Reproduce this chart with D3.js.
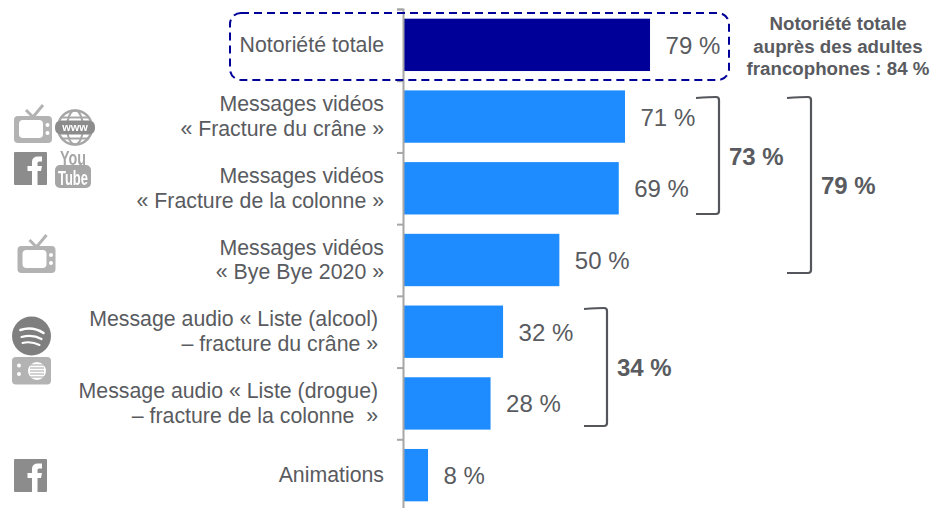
<!DOCTYPE html>
<html>
<head>
<meta charset="utf-8">
<script src="https://cdn.jsdelivr.net/npm/d3@7"></script>
<style>
html, body { margin: 0; padding: 0; background: #fff; overflow: hidden; }
svg { display: block; }
text { font-family: "Liberation Sans", Arial, sans-serif; white-space: pre; }
</style>
</head>
<body>
<svg id="chart"></svg>
<script>
var width = 933;
var height = 508;

var labels = [
  ["Notoriété totale"],
  ["Messages vidéos", "« Fracture du crâne »"],
  ["Messages vidéos", "« Fracture de la colonne »"],
  ["Messages vidéos", "« Bye Bye 2020 »"],
  ["Message audio « Liste (alcool)\u00a0", "– fracture du crâne »\u00a0"],
  ["Message audio « Liste (drogue)\u00a0", "– fracture de la colonne  »\u00a0"],
  ["Animations"]
];
var values = [79, 71, 69, 50, 32, 28, 8];
var noteLines = ["Notoriété totale", "auprès des adultes", "francophones : 84 %"];
var groupLabels = ["73 %", "79 %", "34 %"];

var textColor = "#595B60";
var darkBlue = "#000099";
var blue = "#1E8CFF";
var axisGrey = "#A6A6A6";
var bracketColor = "#54565C";

var svg = d3.select("#chart").attr("width", width).attr("height", height);

// the icons in the reference are soft, slightly scaled bitmaps
svg.append("defs").append("filter").attr("id", "soft")
  .append("feGaussianBlur").attr("stdDeviation", 0.4);

var x = d3.scaleLinear().domain([0, 100]).range([403, 715.7]);
var y = d3.scaleBand().domain(d3.range(values.length)).range([9, 511]).paddingInner(0.27).paddingOuter(0.135);
var tickScale = d3.scaleLinear().domain([0, values.length]).range([9, 511]);

// bars
svg.append("g").selectAll("rect")
  .data(values)
  .enter().append("rect")
  .attr("x", x(0))
  .attr("y", function(d, i) { return y(i); })
  .attr("width", function(d) { return x(d) - x(0); })
  .attr("height", y.bandwidth())
  .attr("fill", function(d, i) { return i == 0 ? darkBlue : blue; });

// axis, ticks sit between the categories
var axis = svg.append("g")
  .attr("transform", "translate(" + x(0) + ",0)")
  .call(d3.axisLeft(tickScale).tickValues(d3.range(values.length + 1)).tickSize(6).tickFormat(""));
axis.selectAll("path, line").attr("stroke", axisGrey).attr("stroke-width", 2);

// value labels
svg.append("g").selectAll("text")
  .data(values)
  .enter().append("text")
  .attr("x", function(d) { return x(d) + 15.5; })
  .attr("y", function(d, i) { return y(i) + y.bandwidth() / 2 + 9; })
  .attr("font-size", 24)
  .attr("fill", textColor)
  .text(function(d) { return d + " %"; });

// category labels
var labelG = svg.append("g").selectAll("text")
  .data(labels)
  .enter().append("text")
  .attr("text-anchor", "end")
  .attr("font-size", 21.3)
  .attr("fill", textColor);
labelG.selectAll("tspan")
  .data(function(d, i) { return d.map(function(l, j) { return { t: l, i: i, j: j, n: d.length }; }); })
  .enter().append("tspan")
  .attr("x", 384)
  .attr("y", function(d) { return y(d.i) + y.bandwidth() / 2 + 7 + (d.j - (d.n - 1) / 2) * 24.5; })
  .text(function(d) { return d.t; });

// dashed box round the first row
svg.append("rect")
  .attr("x", 230).attr("y", 13).attr("width", 499).attr("height", 67).attr("rx", 11)
  .attr("fill", "none").attr("stroke", darkBlue).attr("stroke-width", 2)
  .attr("stroke-dasharray", "8 5");

// note on the right
svg.append("g").selectAll("text")
  .data(noteLines)
  .enter().append("text")
  .attr("x", 838)
  .attr("y", function(d, i) { return 30 + i * 22.5; })
  .attr("text-anchor", "middle")
  .attr("font-size", 18.7)
  .attr("font-weight", "bold")
  .attr("fill", textColor)
  .text(function(d) { return d; });

// brackets
function bracket(x0, x1, y0, y1) {
  svg.append("path")
    .attr("d", "M" + x0 + "," + y0 + " Q" + (x0 + 14) + "," + (y0 - 1) + " " + (x1 - 3) + "," + (y0 - 1) +
      " Q" + x1 + "," + (y0 - 1) + " " + x1 + "," + (y0 + 2) +
      " L" + x1 + "," + (y1 - 2) +
      " Q" + x1 + "," + (y1 + 1) + " " + (x1 - 3) + "," + (y1 + 1) +
      " Q" + (x0 + 14) + "," + (y1 + 1) + " " + x0 + "," + (y1 + 1))
    .attr("fill", "none").attr("stroke", bracketColor).attr("stroke-width", 2.2);
}
bracket(696, 719, 98, 213);
bracket(787, 811, 98, 272);
bracket(584, 607, 309, 425);

var groupPos = [[729, 165], [821, 194], [617, 376]];
svg.append("g").selectAll("text")
  .data(groupLabels)
  .enter().append("text")
  .attr("x", function(d, i) { return groupPos[i][0]; })
  .attr("y", function(d, i) { return groupPos[i][1]; })
  .attr("font-size", 24)
  .attr("font-weight", "bold")
  .attr("fill", textColor)
  .text(function(d) { return d; });

// icons
var icons = svg.append("g").attr("filter", "url(#soft)");

function tv(px, py) {
  var g = icons.append("g").attr("transform", "translate(" + px + "," + py + ")");
  g.append("path").attr("d", "M12,6 L19,13 L29,1").attr("fill", "none").attr("stroke", "#b3b3b3").attr("stroke-width", 3);
  g.append("rect").attr("x", 0).attr("y", 12).attr("width", 38).attr("height", 27).attr("rx", 4).attr("fill", "#b3b3b3");
  g.append("rect").attr("x", 5).attr("y", 16).attr("width", 24).attr("height", 18).attr("rx", 4).attr("fill", "#fff");
  g.append("circle").attr("cx", 33.5).attr("cy", 21).attr("r", 2).attr("fill", "#fff");
  g.append("circle").attr("cx", 33.5).attr("cy", 29).attr("r", 2).attr("fill", "#fff");
}
function fb(px, py) {
  var g = icons.append("g").attr("transform", "translate(" + px + "," + py + ")");
  g.append("rect").attr("width", 33).attr("height", 33).attr("rx", 1).attr("fill", "#8c8c8c");
  g.append("path").attr("d", "M18,33 V19 H13.5 V14 H18 V10 Q18,4.5 24,4.5 H28 V9.5 H25 Q23.5,9.5 23.5,11 V14 H28 L27,19 H23.5 V33 Z").attr("fill", "#fff");
}
tv(14, 104);
tv(17.5, 234);
fb(14, 152);
fb(14, 459);

// www globe
var globe = icons.append("g").attr("transform", "translate(75,127.5)");
globe.append("circle").attr("r", 17).attr("fill", "none").attr("stroke", "#a6a6a6").attr("stroke-width", 2.5);
globe.append("ellipse").attr("rx", 8).attr("ry", 17).attr("fill", "none").attr("stroke", "#a6a6a6").attr("stroke-width", 2);
globe.append("line").attr("x1", -14).attr("x2", 14).attr("y1", -10).attr("y2", -10).attr("stroke", "#a6a6a6").attr("stroke-width", 2);
globe.append("line").attr("x1", -14).attr("x2", 14).attr("y1", 11).attr("y2", 11).attr("stroke", "#a6a6a6").attr("stroke-width", 2);
globe.append("rect").attr("x", -20).attr("y", -7).attr("width", 40).attr("height", 14).attr("rx", 6).attr("fill", "#8c8c8c");
globe.append("text").attr("y", 3.5).attr("text-anchor", "middle").attr("font-size", 11).attr("font-weight", "bold").attr("fill", "#fff").text("www");

// youtube
icons.append("text").attr("x", 73).attr("y", 165).attr("text-anchor", "middle").attr("font-size", 21).attr("font-weight", "bold")
  .attr("fill", "#a6a6a6").attr("textLength", 26).attr("lengthAdjust", "spacingAndGlyphs").text("You");
icons.append("rect").attr("x", 55).attr("y", 165).attr("width", 36).attr("height", 23).attr("rx", 5).attr("fill", "#a6a6a6");
icons.append("text").attr("x", 73).attr("y", 185).attr("text-anchor", "middle").attr("font-size", 20).attr("font-weight", "bold")
  .attr("fill", "#fff").attr("textLength", 30).attr("lengthAdjust", "spacingAndGlyphs").text("Tube");

// spotify
var sp = icons.append("g").attr("transform", "translate(31.5,336)");
sp.append("circle").attr("r", 19.5).attr("fill", "#7f7f7f");
sp.append("path").attr("d", "M-11,-6 Q1,-10 12,-3").attr("fill", "none").attr("stroke", "#fff").attr("stroke-width", 2.6).attr("stroke-linecap", "round");
sp.append("path").attr("d", "M-10,1 Q1,-2 10,3").attr("fill", "none").attr("stroke", "#fff").attr("stroke-width", 2.2).attr("stroke-linecap", "round");
sp.append("path").attr("d", "M-9,7 Q0,5 8,9").attr("fill", "none").attr("stroke", "#fff").attr("stroke-width", 2).attr("stroke-linecap", "round");

// radio
var radio = icons.append("g").attr("transform", "translate(12,357)");
radio.append("rect").attr("width", 39).attr("height", 27.5).attr("rx", 4).attr("fill", "#b3b3b3");
radio.append("circle").attr("cx", 7).attr("cy", 8.5).attr("r", 2).attr("fill", "#fff");
radio.append("circle").attr("cx", 7).attr("cy", 17).attr("r", 2).attr("fill", "#fff");
radio.append("circle").attr("cx", 25).attr("cy", 14).attr("r", 9).attr("fill", "#fff");
[-5, -2, 1, 4, 7].forEach(function(o) {
  radio.append("line").attr("x1", 18).attr("x2", 32).attr("y1", 14 + o - 1).attr("y2", 14 + o - 1).attr("stroke", "#b3b3b3").attr("stroke-width", 1.2);
});
</script>
</body>
</html>
